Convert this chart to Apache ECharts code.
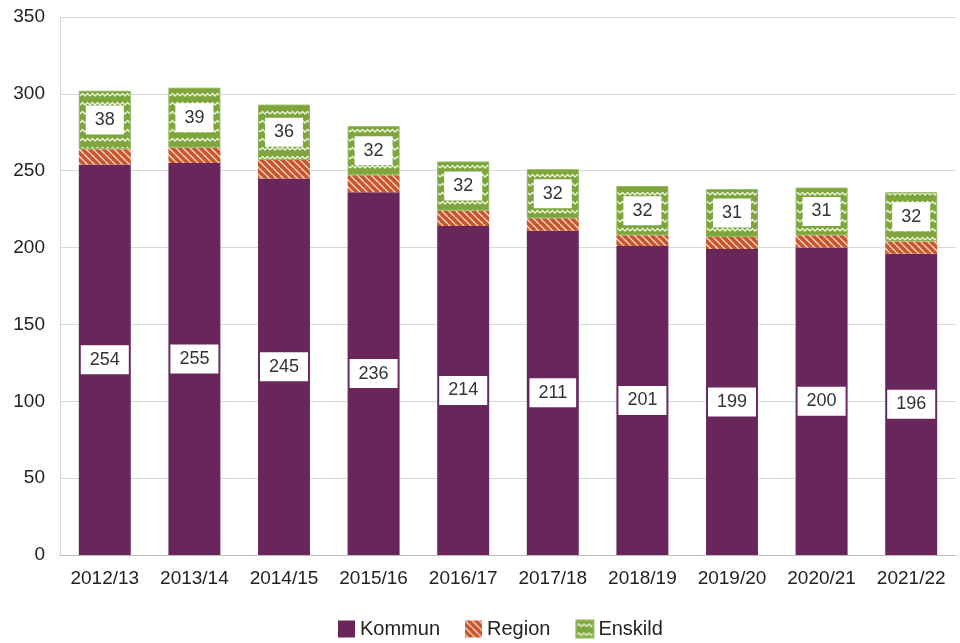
<!DOCTYPE html>
<html><head><meta charset="utf-8">
<script src="https://cdn.jsdelivr.net/npm/echarts@6/dist/echarts.min.js"></script>
<style>html,body{margin:0;padding:0;background:#fff}#c{width:960px;height:643px}</style>
</head><body><div id="c"></div>
<script>
var categories = ['2012/13','2013/14','2014/15','2015/16','2016/17','2017/18','2018/19','2019/20','2020/21','2021/22'];
var kommun = [254,255,245,236,214,211,201,199,200,196];
var region = [10,10,12,11,10,8,7,8,8,8];
var enskild = [38,39,36,32,32,32,32,31,31,32];
var yTicks = [0,50,100,150,200,250,300,350];

function stripePattern(){
  var c=document.createElement('canvas');c.width=7;c.height=7;var g=c.getContext('2d');
  g.fillStyle='#c8552b';g.fillRect(0,0,7,7);
  g.strokeStyle='#f6d8c8';g.lineWidth=1.4;
  g.beginPath();
  for(var k=-7;k<=7;k+=7){g.moveTo(k,0);g.lineTo(k+7,7);}
  g.stroke();return c;
}
function zigPattern(){
  var c=document.createElement('canvas');c.width=10;c.height=9;var g=c.getContext('2d');
  g.fillStyle='#7da53b';g.fillRect(0,0,10,9);
  g.strokeStyle='#eef5e2';g.lineWidth=1.3;
  g.beginPath();g.moveTo(0,6);g.lineTo(2.5,3.5);g.lineTo(5,6);g.lineTo(7.5,3.5);g.lineTo(10,6);g.stroke();
  return c;
}
var chart=echarts.init(document.getElementById('c'));
var FF='Liberation Sans, Arial, sans-serif';
var lbl={show:true,position:'inside',color:'#333',fontSize:18,fontFamily:FF,backgroundColor:'#fff',padding:[6,9,5,9]};
chart.setOption({
  animation:false,
  grid:{left:60,right:4,top:17,bottom:88,containLabel:false},
  legend:{bottom:-1,left:333,icon:'rect',itemWidth:17,itemHeight:17,itemGap:25,
    textStyle:{fontSize:20,color:'#222',fontFamily:FF,padding:[0,0,0,0]},
    data:['Kommun','Region','Enskild']},
  xAxis:{type:'category',data:categories,
    axisLine:{lineStyle:{color:'#bfbfbf'}},axisTick:{show:false},
    axisLabel:{fontSize:19,color:'#222',margin:14,fontFamily:FF}},
  yAxis:{type:'value',min:yTicks[0],max:yTicks[yTicks.length-1],interval:50,
    axisLine:{show:true,lineStyle:{color:'#d9d9d9'}},axisTick:{show:false},
    splitLine:{lineStyle:{color:'#d9d9d9'}},
    axisLabel:{fontSize:19,color:'#222',margin:15,fontFamily:FF}},
  series:[
    {name:'Kommun',type:'bar',stack:'s',data:kommun,barWidth:'58%',itemStyle:{color:'#68265a'},label:lbl},
    {name:'Region',type:'bar',stack:'s',data:region,itemStyle:{color:{image:stripePattern(),repeat:'repeat'}}},
    {name:'Enskild',type:'bar',stack:'s',data:enskild,itemStyle:{color:{image:zigPattern(),repeat:'repeat'},borderColor:'#8fb555',borderWidth:1},label:lbl}
  ]
});
</script></body></html>
